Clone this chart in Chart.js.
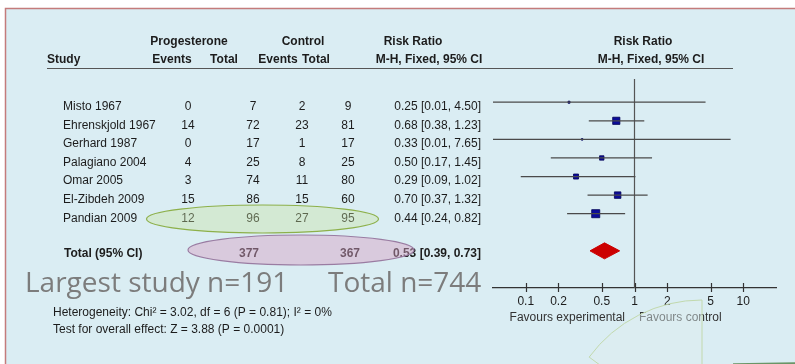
<!DOCTYPE html>
<html><head><meta charset="utf-8">
<script src="https://cdn.jsdelivr.net/npm/chart.js@4/dist/chart.umd.min.js"></script>
<style>html,body{margin:0;padding:0;background:#fff;overflow:hidden}canvas{display:block}</style>
</head><body>
<canvas id="c" width="795" height="364"></canvas>
<script>
// ---------------- DATA ----------------
const studies = ["Misto 1967","Ehrenskjold 1967","Gerhard 1987","Palagiano 2004","Omar 2005","El-Zibdeh 2009","Pandian 2009"];
const progEvents = [0,14,0,4,3,15,12];
const progTotal  = [7,72,17,25,74,86,96];
const ctrlEvents = [2,23,1,8,11,15,27];
const ctrlTotal  = [9,81,17,25,80,60,95];
const rr     = [0.25,0.68,0.33,0.50,0.29,0.70,0.44];
const ciLow  = [0.01,0.38,0.01,0.17,0.09,0.37,0.24];
const ciHigh = [4.50,1.23,7.65,1.45,1.02,1.32,0.82];
const weightPct = [2.0,24.6,1.1,9.1,12.0,20.1,30.9]; // estimated from square sizes
const totalLabel = "Total (95% CI)";
const totalProg = 377, totalCtrl = 367;
const pooledRR = 0.53, pooledLow = 0.39, pooledHigh = 0.73;
const xTicks = [0.1,0.2,0.5,1,2,5,10];
const xRange = [0.05, 20];
const heterogeneityText = "Heterogeneity: Chi\u00b2 = 3.02, df = 6 (P = 0.81); I\u00b2 = 0%";
const overallText = "Test for overall effect: Z = 3.88 (P = 0.0001)";
const favoursLeft = "Favours experimental", favoursRight = "Favours control";
const noteLargest = "Largest study n=191", noteTotal = "Total n=744";
const headTop = ["Progesterone","Control","Risk Ratio","Risk Ratio"];
const headBottom = ["Study","Events","Total","Events","Total","M-H, Fixed, 95% CI","M-H, Fixed, 95% CI"];

// ---------------- LAYOUT / STYLE ----------------
const FONT = '"Liberation Sans", Arial, Helvetica, sans-serif';
const TXT = '#1c1c1c';
const totalRow = studies.length + 1;
const fmt2 = v => v.toFixed(2);

const datasets = [];
studies.forEach((s, i) => {
  datasets.push({data:[{x:ciLow[i], y:i},{x:ciHigh[i], y:i}], showLine:true, borderColor:'#4a4a4a', borderWidth:1.3, pointRadius:0});
});
datasets.push({data:[{x:1, y:-1.25},{x:1, y:10}], showLine:true, borderColor:'#555', borderWidth:1.2, pointRadius:0});
datasets.push({data: studies.map((s,i)=>({x:rr[i], y:i})), showLine:false, pointStyle:'rect',
  pointRadius: weightPct.map(w => 1.45*Math.sqrt(w)/1.414),
  backgroundColor:'#0c0c9a', borderColor:'#000055', borderWidth:0.8});
const dh = 0.43;
datasets.push({data:[{x:pooledLow,y:totalRow},{x:pooledRR,y:totalRow-dh},{x:pooledHigh,y:totalRow},{x:pooledRR,y:totalRow+dh},{x:pooledLow,y:totalRow}],
  showLine:true, fill:'shape', backgroundColor:'#cc0000', borderColor:'#cc0000', borderWidth:1, pointRadius:0});

const textPlugin = {
  id:'forestText',
  beforeDraw(chart){
    const ctx = chart.ctx;
    ctx.save();
    ctx.fillStyle='#ffffff'; ctx.fillRect(0,0,795,364);
    ctx.fillStyle='#daedf3'; ctx.fillRect(5,8,790,356);
    ctx.strokeStyle='#c47b7b'; ctx.lineWidth=1.5;
    ctx.beginPath(); ctx.moveTo(5.5,364); ctx.lineTo(5.5,8.5); ctx.lineTo(795,8.5); ctx.stroke();
    ctx.restore();
  },
  afterDraw(chart){
    const ctx = chart.ctx, ys = chart.scales.y, xs = chart.scales.x;
    const axisY = chart.chartArea.bottom;
    ctx.save();
    // crossing tick marks
    ctx.strokeStyle='#333'; ctx.lineWidth=1.2;
    xTicks.forEach(v => { const px = Math.round(xs.getPixelForValue(v))+0.5; ctx.beginPath(); ctx.moveTo(px, axisY-5); ctx.lineTo(px, axisY+4); ctx.stroke(); });

    ctx.fillStyle = TXT; ctx.textBaseline='middle';
    const put = (t, x, y, align, bold, size) => { ctx.font = (bold?'bold ':'') + (size||12) + 'px ' + FONT; ctx.textAlign = align; ctx.fillText(t, x, y); };
    // header
    put(headTop[0],189,42,'center',true); put(headTop[1],303,42,'center',true);
    put(headTop[2],413,42,'center',true); put(headTop[3],643,42,'center',true);
    put(headBottom[0],47,60,'left',true); put(headBottom[1],172,60,'center',true); put(headBottom[2],224,60,'center',true);
    put(headBottom[3],278,60,'center',true); put(headBottom[4],316,60,'center',true);
    put(headBottom[5],429,60,'center',true); put(headBottom[6],651,60,'center',true);
    ctx.strokeStyle='#555'; ctx.lineWidth=1;
    ctx.beginPath(); ctx.moveTo(47,68.5); ctx.lineTo(733,68.5); ctx.stroke();
    // rows
    studies.forEach((s,i) => {
      const y = ys.getPixelForValue(i) + 4.5;
      put(s,63,y,'left'); put(String(progEvents[i]),188,y,'center'); put(String(progTotal[i]),253,y,'center');
      put(String(ctrlEvents[i]),302,y,'center'); put(String(ctrlTotal[i]),348,y,'center');
      put(fmt2(rr[i])+' ['+fmt2(ciLow[i])+', '+fmt2(ciHigh[i])+']',481,y,'right');
    });
    const ty = ys.getPixelForValue(totalRow) + 2.5;
    put(totalLabel,64,ty,'left',true); put(String(totalProg),249,ty,'center',true); put(String(totalCtrl),350,ty,'center',true);
    put(fmt2(pooledRR)+' ['+fmt2(pooledLow)+', '+fmt2(pooledHigh)+']',481,ty,'right',true);
    put(heterogeneityText,53,313,'left'); put(overallText,53,330,'left');
    ctx.fillStyle='#333';
    put(favoursLeft,625,318,'right'); put(favoursRight,639,318,'left');

    // ellipses
    ctx.beginPath(); ctx.ellipse(262.5,219,116,14,0,0,Math.PI*2);
    ctx.fillStyle='rgba(200,225,160,0.38)'; ctx.fill(); ctx.strokeStyle='#8db04a'; ctx.lineWidth=1.2; ctx.stroke();
    ctx.beginPath(); ctx.ellipse(301,250,113,15,0,0,Math.PI*2);
    ctx.fillStyle='rgba(215,160,195,0.45)'; ctx.fill(); ctx.strokeStyle='#9a7ca2'; ctx.lineWidth=1.2; ctx.stroke();

    // big annotations
    ctx.fillStyle='#7c7c7c'; ctx.textBaseline='alphabetic'; ctx.textAlign='left';
    ctx.font='28px "Open Sans", sans-serif';
    ctx.fillText(noteLargest,25,292); ctx.fillText(noteTotal,328,292);

    // decorative sector
    const cx=702, cy=440, r=140;
    ctx.beginPath(); ctx.moveTo(cx,cy); ctx.arc(cx,cy,r,Math.atan2(357-cy,589-cx),-Math.PI/2); ctx.closePath();
    ctx.fillStyle='rgba(222,238,240,0.45)'; ctx.fill(); ctx.strokeStyle='#c2d9ad'; ctx.lineWidth=1; ctx.stroke();
    ctx.beginPath(); ctx.moveTo(733,363.2); ctx.lineTo(795,362.2); ctx.lineTo(795,364); ctx.lineTo(733,364); ctx.closePath();
    ctx.fillStyle='#6a9566'; ctx.fill();
    ctx.restore();
  }
};

new Chart(document.getElementById('c'), {
  type:'scatter',
  data:{datasets},
  options:{
    responsive:false, animation:false, devicePixelRatio:1, events:[],
    layout:{padding:{left:493, right:19, top:79, bottom:46}},
    plugins:{legend:{display:false}, tooltip:{enabled:false}},
    scales:{
      x:{type:'logarithmic', min:xRange[0], max:xRange[1], position:'bottom',
        afterBuildTicks: s => { s.ticks = xTicks.map(v => ({value:v})); },
        afterFit: s => { s.height = 30; },
        ticks:{autoSkip:false, maxRotation:0, padding:6, color:TXT, font:{family:FONT, size:12}, callback: v => String(v)},
        grid:{display:false, drawTicks:false},
        border:{display:true, color:'#333', width:1.2}},
      y:{type:'linear', min:-1.25, max:10, reverse:true, display:false}
    }
  },
  plugins:[textPlugin]
});
</script>
</body></html>
